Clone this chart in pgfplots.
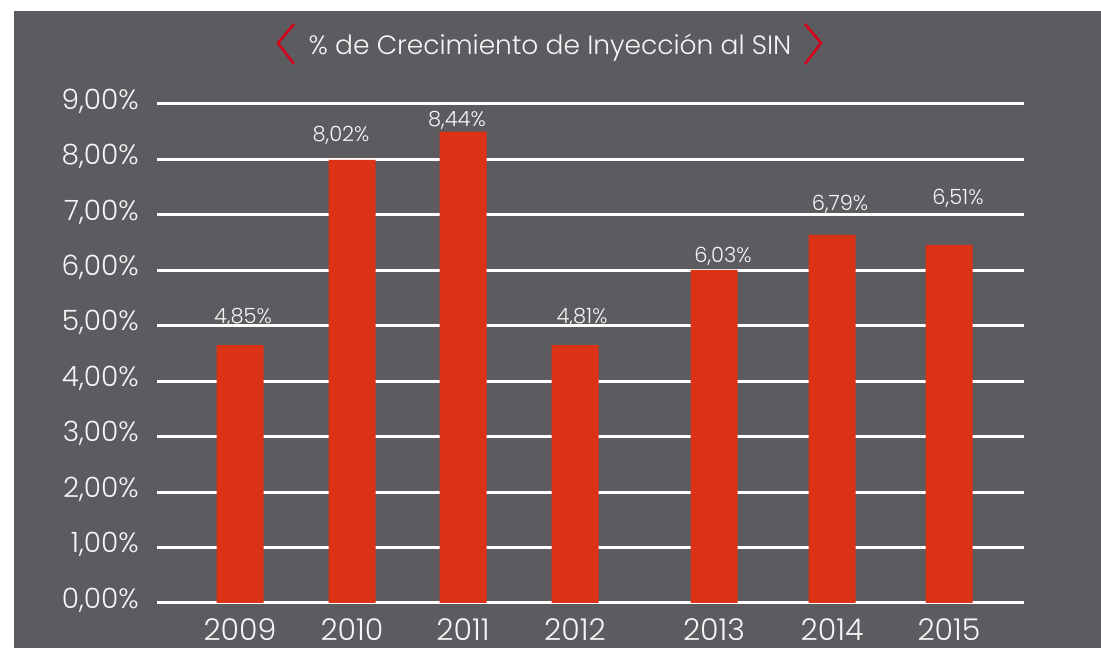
\documentclass[border=0pt]{standalone}
\usepackage{fontspec}
\IfFontExistsTF{Poppins Light}{\setmainfont{Poppins Light}}{\setmainfont{Poppins}}
\usepackage{pgfplots}
\pgfplotsset{compat=1.18}
\definecolor{panel}{RGB}{92,91,96}
\definecolor{barred}{RGB}{220,50,22}
\definecolor{brk}{RGB}{215,0,26}
\definecolor{txt}{RGB}{245,245,245}

% bar heights (x = bar centre, px)
\pgfplotstableread{
x   y
240 4.65
352 7.99
463 8.50
575 4.65
714 6.01
832 6.64
949 6.46
}\bars
% printed values, at the baseline where they stand
\pgfplotstableread{
x   y    label
243 5.05 4,85\%
341 8.32 8,02\%
457 8.60 8,44\%
582 5.05 4,81\%
723 6.14 6,03\%
840 7.08 6,79\%
958 7.19 6,51\%
}\labels

\begin{document}
\begin{tikzpicture}
\useasboundingbox (0,0) rectangle (1101pt,648pt);
\fill[white] (0,0) rectangle (1101pt,648pt);
\fill[panel] (14pt,0) rectangle (1101pt,637pt);

% title with the red angle brackets
\node[anchor=base, text=txt, font=\fontsize{26.5}{30}\selectfont, inner sep=0pt]
  at (550pt,593pt) {\% de Crecimiento de Inyección al SIN};
\draw[brk, line width=2.5pt] (294pt,624pt) -- (278pt,605pt) -- (294pt,584pt);
\draw[brk, line width=2.5pt] (805pt,624pt) -- (821pt,605pt) -- (805pt,584pt);

\begin{axis}[
    at={(157pt,45pt)}, anchor=south west,
    scale only axis,
    width=867pt, height=499pt,
    xmin=157, xmax=1024,
    ymin=0, ymax=9,
    axis line style={draw=none},
    tick style={draw=none},
    major tick length=0pt,
    ytick={0,1,2,3,4,5,6,7,8,9},
    yticklabels={{0,00\%},{1,00\%},{2,00\%},{3,00\%},{4,00\%},{5,00\%},{6,00\%},{7,00\%},{8,00\%},{9,00\%}},
    xtick={240,352,463,575,714,832,949},
    xticklabels={2009,2010,2011,2012,2013,2014,2015},
    ymajorgrids,
    grid style={white, line width=3pt},
    yticklabel style={font=\fontsize{28}{30}\selectfont, text=txt, anchor=east, inner sep=0pt, xshift=-18pt, yshift=3pt},
    xticklabel style={font=\fontsize{30}{33}\selectfont, text=txt, anchor=base, inner sep=0pt, yshift=-38pt},
    clip=false,
]
\addplot[ybar, bar width=47, bar shift=0pt, fill=barred, draw=none] table[x=x, y=y] {\bars};
\addplot[only marks, mark=*, mark size=0pt, mark options={draw=none, fill=none},
    nodes near coords, point meta=explicit symbolic,
    every node near coord/.append style={anchor=base, inner sep=0pt, text=txt, font=\fontsize{21}{24}\selectfont}]
    table[x=x, y=y, meta=label] {\labels};
\end{axis}
\end{tikzpicture}
\end{document}
